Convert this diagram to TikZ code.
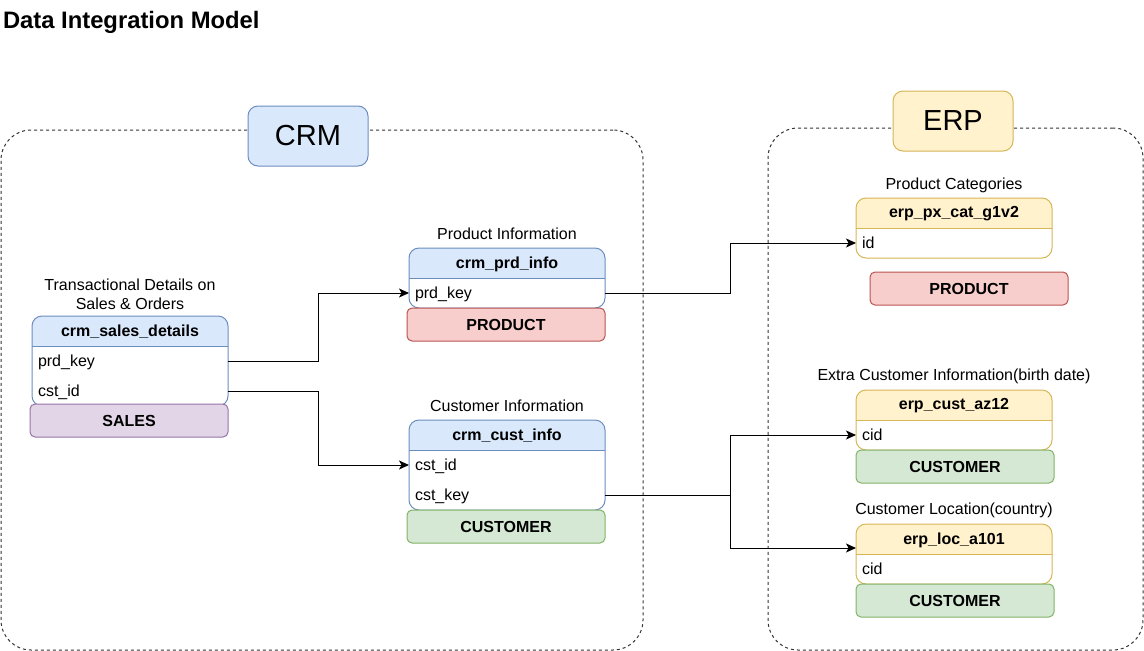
\documentclass[tikz,border=0pt]{standalone}
\usepackage{fontspec}
\setmainfont{Liberation Sans}
\usetikzlibrary{arrows.meta}

\definecolor{blueFill}{HTML}{DAE8FC}\definecolor{blueLine}{HTML}{6C8EBF}
\definecolor{redFill}{HTML}{F8CECC}\definecolor{redLine}{HTML}{B85450}
\definecolor{greenFill}{HTML}{D5E8D4}\definecolor{greenLine}{HTML}{82B366}
\definecolor{purpleFill}{HTML}{E1D5E7}\definecolor{purpleLine}{HTML}{9673A6}
\definecolor{yellowFill}{HTML}{FFF2CC}\definecolor{yellowLine}{HTML}{D6B656}
\definecolor{areaLine}{HTML}{333333}

\tikzset{
  every node/.style={font=\fontsize{16}{19}\selectfont, outer sep=0pt},
  area/.style={draw=areaLine, line width=1pt, dash pattern=on 3pt off 3pt,
    rounded corners=30pt, anchor=north west, inner sep=0pt},
  grouptitle/.style={line width=1pt, rounded corners=10pt, anchor=north west,
    minimum width=120pt, minimum height=60pt, inner sep=0pt,
    font=\fontsize{29}{34}\selectfont},
  tablebody/.style={fill=white, minimum width=196pt, anchor=north west, inner sep=0pt},
  headtext/.style={font=\fontsize{16}{19}\selectfont\bfseries, inner sep=0pt},
  rowtext/.style={anchor=north west, text width=184pt, inner xsep=6pt, inner ysep=0pt,
    minimum height=30pt, align=left, text depth=0pt},
  tag/.style={line width=1pt, rounded corners=5pt, anchor=north west,
    minimum width=198pt, minimum height=33pt, inner sep=0pt,
    font=\fontsize{16}{19}\selectfont\bfseries},
  caption/.style={align=center, inner sep=0pt},
  link/.style={line width=1pt, -{Stealth[length=10pt, width=9pt, inset=2.5pt]}},
}

% #1 name, #2 x, #3 top, #4 number of rows, #5 header fill, #6 line colour, #7 title
\newcommand\dbtable[7]{%
  \pgfmathsetmacro\tblheight{30*(#4+1)}%
  \node[tablebody, minimum height=\tblheight pt] (#1) at (#2,#3) {};
  \begin{scope}
    \clip[rounded corners=10pt] (#1.north west) rectangle (#1.south east);
    \fill[#5] (#1.north west) rectangle ([yshift=-30pt]#1.north east);
  \end{scope}
  \draw[#6, line width=1pt] ([yshift=-30pt]#1.north west) -- ([yshift=-30pt]#1.north east);
  \draw[#6, line width=1pt, rounded corners=10pt] (#1.north west) rectangle (#1.south east);
  \node[headtext] (#1-head) at ([yshift=-16pt]#1.north) {#7};
}

\begin{document}
\begin{tikzpicture}[x=1pt, y=-1pt]
\useasboundingbox (0,0) rectangle (1144,651);

% title
\node[anchor=base west, inner sep=0pt, font=\fontsize{23.8}{28}\selectfont\bfseries]
  (title) at (3,28) {Data Integration Model};

% dashed system areas
\node[area, minimum width=642pt, minimum height=520pt] (crm-area) at (1,130) {};
\node[area, minimum width=375pt, minimum height=522pt] (erp-area) at (768,128) {};
\node[grouptitle, fill=blueFill, draw=blueLine] (crm) at (248,106) {CRM};
\node[grouptitle, fill=yellowFill, draw=yellowLine] (erp) at (893,91) {ERP};

% CRM tables
\node[caption] (sd-cap) at (130,294) {Transactional Details on\\Sales \& Orders};
\dbtable{sd}{32}{316}{2}{blueFill}{blueLine}{crm\_sales\_details}
\node[rowtext] (sd-prd) at ([yshift=-30pt]sd.north west) {prd\_key};
\node[rowtext] (sd-cst) at ([yshift=-60pt]sd.north west) {cst\_id};
\node[tag, fill=purpleFill, draw=purpleLine] (sd-tag) at (30,404) {SALES};

\node[caption] (pi-cap) at (507,234) {Product Information};
\dbtable{pi}{409}{248}{1}{blueFill}{blueLine}{crm\_prd\_info}
\node[rowtext] (pi-prd) at ([yshift=-30pt]pi.north west) {prd\_key};
\node[tag, fill=redFill, draw=redLine] (pi-tag) at (407,308) {PRODUCT};

\node[caption] (ci-cap) at (507,406) {Customer Information};
\dbtable{ci}{409}{420}{2}{blueFill}{blueLine}{crm\_cust\_info}
\node[rowtext] (ci-id) at ([yshift=-30pt]ci.north west) {cst\_id};
\node[rowtext] (ci-key) at ([yshift=-60pt]ci.north west) {cst\_key};
\node[tag, fill=greenFill, draw=greenLine] (ci-tag) at (407,510) {CUSTOMER};

% ERP tables
\node[caption] (pc-cap) at (954,185) {Product Categories};
\dbtable{pc}{856}{198}{1}{yellowFill}{yellowLine}{erp\_px\_cat\_g1v2}
\node[rowtext] (pc-id) at ([yshift=-30pt]pc.north west) {id};
\node[tag, fill=redFill, draw=redLine] (pc-tag) at (870,272) {PRODUCT};

\node[caption] (az-cap) at (954,376) {Extra Customer Information(birth date)};
\dbtable{az}{856}{390}{1}{yellowFill}{yellowLine}{erp\_cust\_az12}
\node[rowtext] (az-cid) at ([yshift=-30pt]az.north west) {cid};
\node[tag, fill=greenFill, draw=greenLine] (az-tag) at (856,450) {CUSTOMER};

\node[caption] (loc-cap) at (954,510) {Customer Location(country)};
\dbtable{loc}{856}{524}{1}{yellowFill}{yellowLine}{erp\_loc\_a101}
\node[rowtext] (loc-cid) at ([yshift=-30pt]loc.north west) {cid};
\node[tag, fill=greenFill, draw=greenLine] (loc-tag) at (856,584) {CUSTOMER};

% connectors
\draw[link] (sd-prd.east) -- ++(90,0) |- (pi-prd.west);
\draw[link] (sd-cst.east) -- ++(90,0) |- (ci-id.west);
\draw[link] (pi-prd.east) -- ++(125,0) |- (pc-id.west);
\draw[line width=1pt] (ci-key.east) -- ++(125,0) coordinate (split);
\coordinate (loc-in) at ([yshift=-24pt]loc.north west);
\draw[link] (split) |- (az-cid.west);
\draw[link] (split) |- (loc-in);
\end{tikzpicture}
\end{document}
